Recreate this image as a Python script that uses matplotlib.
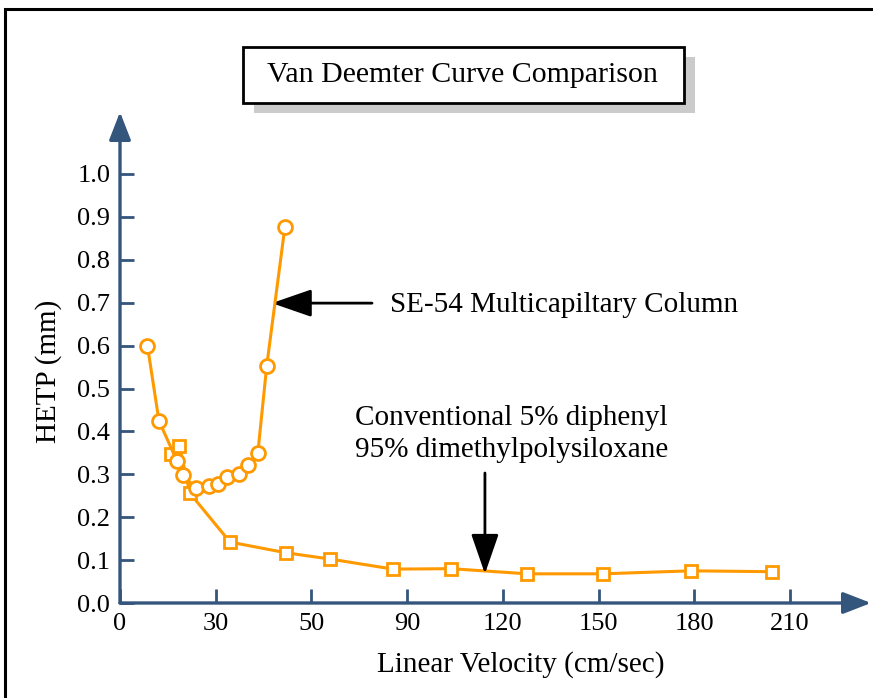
import numpy as np
import matplotlib.pyplot as plt
from matplotlib.patches import Rectangle

plt.rcParams['font.family'] = 'Liberation Serif'
plt.rcParams['font.size'] = 19

# data
multi_x = [8.6, 12.2, 17.8, 19.8, 23.8, 28.0, 30.8, 33.4, 37.3, 40.0, 43.2, 46.0, 51.7]
multi_y = [0.60, 0.425, 0.332, 0.298, 0.267, 0.273, 0.277, 0.294, 0.301, 0.321, 0.349, 0.553, 0.877]
conv_x = [16.0, 18.6, 21.9, 34.5, 52.1, 65.8, 85.6, 103.8, 127.7, 151.3, 178.9, 204.3]
conv_y = [0.347, 0.366, 0.256, 0.142, 0.117, 0.1025, 0.079, 0.080, 0.068, 0.068, 0.075, 0.073]
xticks = [0, 30, 60, 90, 120, 150, 180, 210]
xticklabels = ['0', '30', '50', '90', '120', '150', '180', '210']
yticks = [0.0, 0.1, 0.2, 0.3, 0.4, 0.5, 0.6, 0.7, 0.8, 0.9, 1.0]

W, H = 873, 698
def fx(px): return px / W
def fy(py): return 1 - py / H

orange = '#FF9900'
axcol = '#34557C'

fig = plt.figure(figsize=(8.73, 6.98), dpi=100)

# outer frame
fig.patches.append(Rectangle((fx(5), fy(740)), 1.2, fy(9) - fy(740), transform=fig.transFigure,
                             fill=False, ec='black', lw=2.2, zorder=0))

x0, x1 = 120, 871
y0, y1 = 603, 112
ax = fig.add_axes([fx(x0), fy(y0), fx(x1) - fx(x0), fy(y1) - fy(y0)])
ax.patch.set_alpha(0)
xmax = (x1 - x0) / 3.19
ymax = (y0 - y1) / 429.0
ax.set_xlim(0, xmax)
ax.set_ylim(0, ymax)
for s in ax.spines.values():
    s.set_visible(False)

# axis arrows
ax.annotate('', xy=(1.0, 0), xytext=(0, 0), xycoords='axes fraction',
            arrowprops=dict(arrowstyle='-|>,head_length=0.9,head_width=0.35', color=axcol, lw=2.4,
                            shrinkA=0, shrinkB=0))
ax.annotate('', xy=(0, 1.0), xytext=(0, 0), xycoords='axes fraction',
            arrowprops=dict(arrowstyle='-|>,head_length=0.9,head_width=0.35', color=axcol, lw=2.4,
                            shrinkA=0, shrinkB=0))

ax.set_xticks(xticks)
ax.set_xticklabels(xticklabels)
ax.set_yticks(yticks)
ax.set_yticklabels(['%.1f' % v for v in yticks])
ax.tick_params(direction='in', length=10, width=2, color=axcol, labelsize=19)
ax.tick_params(axis='x', pad=7)
ax.tick_params(axis='y', pad=7)

ax.plot(conv_x, conv_y, color=orange, lw=2.2, marker='s', ms=9, mfc='white', mec=orange, mew=2,
        clip_on=False, zorder=3)
ax.plot(multi_x, multi_y, color=orange, lw=2.2, marker='o', ms=10, mfc='white', mec=orange, mew=2,
        clip_on=False, zorder=4)

ax.set_xlabel('Linear Velocity (cm/sec)', fontsize=21)
ax.xaxis.set_label_coords((521 - x0) / (x1 - x0), -(651 - y0) / (y0 - y1))
ax.set_ylabel('HETP (mm)', fontsize=21)
ax.yaxis.set_label_coords(-(x0 - 62) / (x1 - x0), (y0 - 371) / (y0 - y1))

# annotations
ax.annotate('', xy=(47.6, 0.699), xytext=(79.0, 0.699),
            arrowprops=dict(arrowstyle='-|>,head_length=1.3,head_width=0.45', color='black', lw=2,
                            shrinkA=0, shrinkB=0))
ax.text(84.5, 0.695, 'SE-54 Multicapiltary Column', fontsize=21, va='center', ha='left')
ax.annotate('', xy=(114.4, 0.068), xytext=(114.4, 0.303),
            arrowprops=dict(arrowstyle='-|>,head_length=1.3,head_width=0.45', color='black', lw=2,
                            shrinkA=0, shrinkB=0))
ax.text(73.8, 0.394, 'Conventional 5% diphenyl\n95% dimethylpolysiloxane', fontsize=21,
        va='center', ha='left', linespacing=1.3)

# title box with shadow
fig.patches.append(Rectangle((fx(254), fy(113)), fx(695) - fx(254), fy(57) - fy(113),
                             transform=fig.transFigure, fc='#CBCBCB', ec='none', zorder=1))
fig.patches.append(Rectangle((fx(243), fy(103)), fx(684) - fx(243), fy(47) - fy(103),
                             transform=fig.transFigure, fc='white', ec='black', lw=2, zorder=2))
fig.text(fx(462), fy(75), 'Van Deemter Curve Comparison', fontsize=21.5, ha='center', va='center', zorder=3)

fig.savefig('out.png', dpi=100)
